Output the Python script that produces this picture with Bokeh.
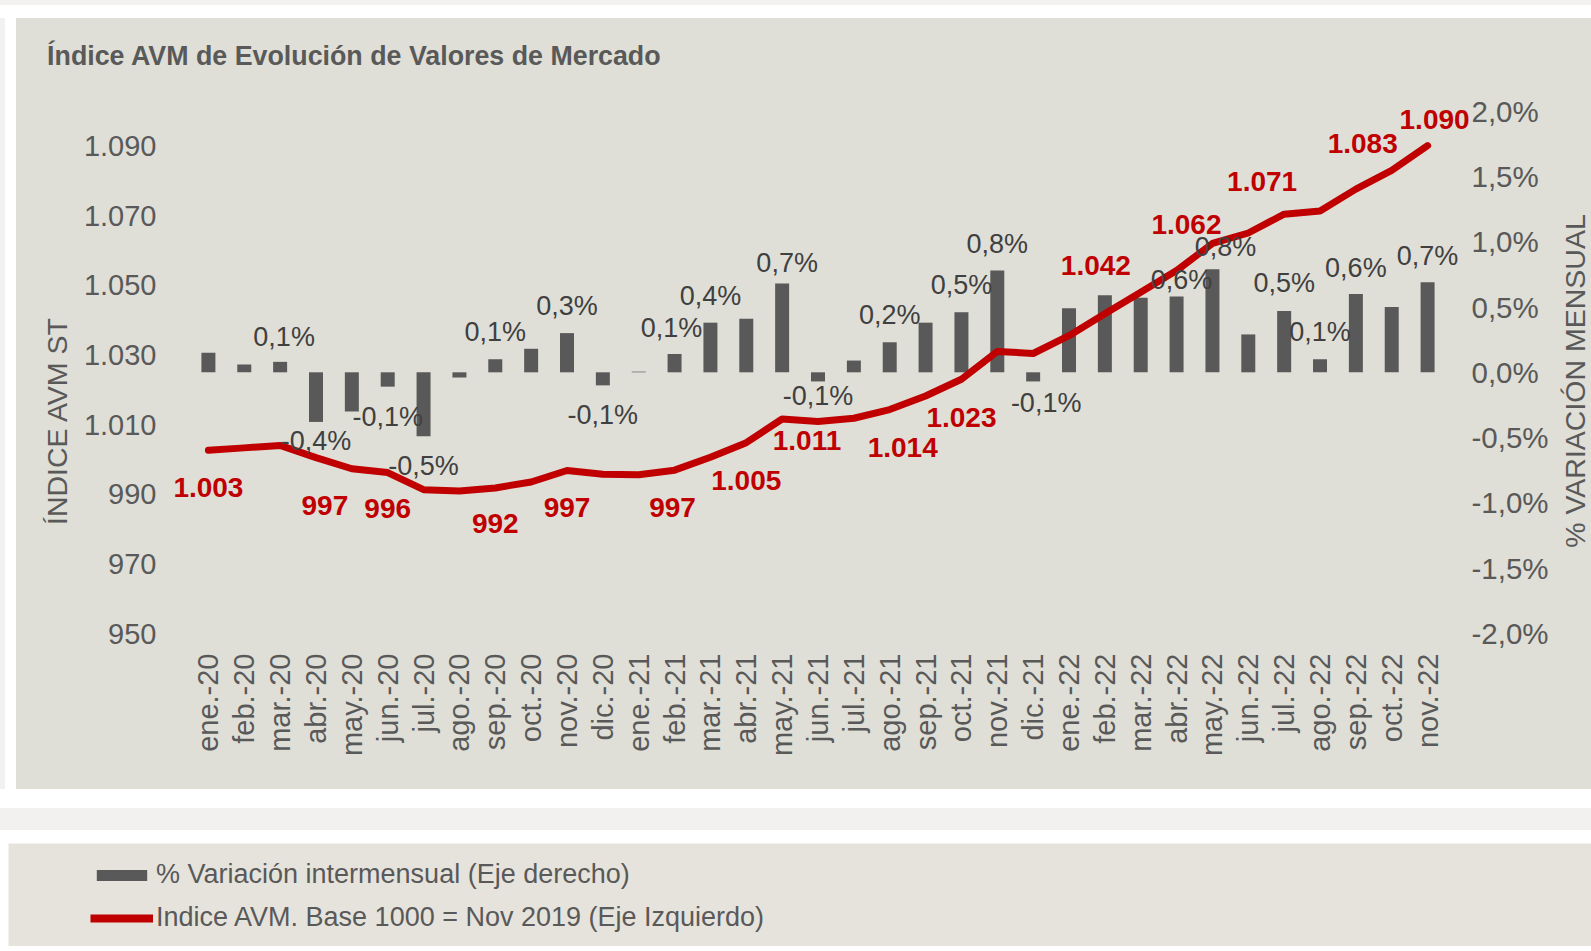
import math
from bokeh.plotting import figure
from bokeh.models import (Range1d, LinearAxis, FixedTicker, ColumnDataSource, LabelSet, Label,
                          Legend, LegendItem, Spacer)
from bokeh.layouts import column, row
from bokeh.core.properties import value
from bokeh.embed import file_html
from bokeh.resources import INLINE

# ---------------- data ----------------
months = ["ene.-20", "feb.-20", "mar.-20", "abr.-20", "may.-20", "jun.-20", "jul.-20",
          "ago.-20", "sep.-20", "oct.-20", "nov.-20", "dic.-20",
          "ene.-21", "feb.-21", "mar.-21", "abr.-21", "may.-21", "jun.-21", "jul.-21",
          "ago.-21", "sep.-21", "oct.-21", "nov.-21", "dic.-21",
          "ene.-22", "feb.-22", "mar.-22", "abr.-22", "may.-22", "jun.-22", "jul.-22",
          "ago.-22", "sep.-22", "oct.-22", "nov.-22"]

var_pct = [0.15, 0.06, 0.08, -0.38, -0.30, -0.11, -0.49, -0.04, 0.10, 0.18, 0.30, -0.10,
           0.005, 0.14, 0.38, 0.41, 0.68, -0.07, 0.09, 0.23, 0.38, 0.46, 0.78, -0.07,
           0.49, 0.59, 0.57, 0.58, 0.79, 0.29, 0.47, 0.10, 0.60, 0.50, 0.69]

index_avm = [1002.6, 1003.3, 1004.0, 1000.5, 997.3, 996.2, 991.3, 990.9, 991.8, 993.5,
             996.8, 995.7, 995.6, 996.9, 1000.6, 1004.8, 1011.6, 1010.9, 1011.8, 1014.3,
             1018.2, 1023.0, 1031.0, 1030.4, 1035.5, 1041.8, 1048.0, 1054.2, 1062.0,
             1065.0, 1070.4, 1071.3, 1077.6, 1083.0, 1090.1]

left_ticks = [950, 970, 990, 1010, 1030, 1050, 1070, 1090]
left_tick_labels = ["950", "970", "990", "1.010", "1.030", "1.050", "1.070", "1.090"]
right_ticks = [-2.0, -1.5, -1.0, -0.5, 0.0, 0.5, 1.0, 1.5, 2.0]
right_tick_labels = ["-2,0%", "-1,5%", "-1,0%", "-0,5%", "0,0%", "0,5%", "1,0%", "1,5%", "2,0%"]

bar_label_idx = [2, 3, 5, 6, 8, 10, 11, 13, 14, 16, 17, 19, 21, 22, 23, 27, 28, 30, 31, 32, 34]
bar_label_text = ["0,1%", "-0,4%", "-0,1%", "-0,5%", "0,1%", "0,3%", "-0,1%", "0,1%", "0,4%",
                  "0,7%", "-0,1%", "0,2%", "0,5%", "0,8%", "-0,1%", "0,6%", "0,8%", "0,5%",
                  "0,1%", "0,6%", "0,7%"]
line_label_idx = [0, 4, 5, 8, 10, 13, 15, 17, 19, 21, 25, 28, 30, 33, 34]
line_label_text = ["1.003", "997", "996", "992", "997", "997", "1.005", "1.011", "1.014",
                   "1.023", "1.042", "1.062", "1.071", "1.083", "1.090"]

title_text = "Índice AVM de Evolución de Valores de Mercado"
left_title = "ÍNDICE AVM ST"
right_title = "% VARIACIÓN MENSUAL"
legend_bar = "% Variación intermensual (Eje derecho)"
legend_line = "Indice AVM. Base 1000 = Nov 2019 (Eje Izquierdo)"

# ---------------- styles (label pixel offsets) ----------------
bar_label_dx = [4, 0, 0, 0, 0, 0, 0, -3, 0, 5, 0, 0, 0, 0, 13, 5, 13, 0, 0, 0, 0]
bar_label_dy = [25, -19, -30, -30, 27, 27, -30, 26, 27, 20, -15, 27, 27, 26, -22, 17, 22, 28, 27, 26, 26]
line_label_dx = [0, -27, 0, 0, 0, -2, 0, -11, 13, 0, -9, -26, -22, -29, 7]
line_label_dy = [-37, -37, -36, -36, -37, -37, -38, -19, -38, -38, 48, 19, 33, 27, 26]

FONT = "Liberation Sans"
BG = "#dfdfd7"
LBG = "#e6e3dc"
PAGE = "#f2f1ef"
GREY = "#595959"
RED = "#c00000"

# ---------------- geometry (page pixels) ----------------
FIG_X, FIG_Y, FIG_H = 16, 18, 771
FIG_R = 1551                           # right edge of the main figure
X0_PX, X1_PX = 190.0, 1446.0          # -0.5 and n-0.5
Y0_PX, Y1_PX = 633.0, 110.6           # 950/-2% and 1100/+2%
FL, FR, FT, FB = 168, 1472, 104, 633  # frame (wider than data area so labels fit)

n = len(months)
x = list(range(n))
ux = (X1_PX - X0_PX) / n
uy = (Y0_PX - Y1_PX) / 150.0
up = (Y0_PX - Y1_PX) / 4.0
xr = Range1d(-0.5 - (X0_PX - FL) / ux, n - 0.5 + (FR - X1_PX) / ux)
yr = Range1d(950 - (FB - Y0_PX) / uy, 1100 + (Y1_PX - FT) / uy)
pr = Range1d(-2 - (FB - Y0_PX) / up, 2 + (Y1_PX - FT) / up)

p = figure(width=FIG_R - FIG_X, height=FIG_H, x_range=xr, y_range=yr,
           output_backend="svg", toolbar_location=None,
           min_border_left=FL - FIG_X, min_border_right=FIG_R - FR,
           min_border_top=FT - FIG_Y, min_border_bottom=FIG_Y + FIG_H - FB,
           background_fill_color=BG, border_fill_color=BG, outline_line_color=None)
p.extra_y_ranges = {"pct": pr}
p.xgrid.visible = False
p.ygrid.visible = False


def style_axis(ax, size="29px"):
    ax.axis_line_color = None
    ax.major_tick_line_color = None
    ax.minor_tick_line_color = None
    ax.major_tick_out = 0
    ax.major_tick_in = 0
    ax.minor_tick_out = 0
    ax.minor_tick_in = 0
    ax.major_label_text_font = FONT
    ax.major_label_text_font_size = size
    ax.major_label_text_color = GREY


ya = p.yaxis[0]
style_axis(ya, "29px")
ya.ticker = FixedTicker(ticks=left_ticks)
ya.major_label_overrides = {t: l for t, l in zip(left_ticks, left_tick_labels)}
ya.major_label_standoff = 12

xa = p.xaxis[0]
style_axis(xa, "29px")
xa.ticker = FixedTicker(ticks=x)
xa.major_label_overrides = {i: m for i, m in zip(x, months)}
xa.major_label_orientation = math.pi / 2
xa.major_label_standoff = 20

ra = LinearAxis(y_range_name="pct", ticker=FixedTicker(ticks=right_ticks))
style_axis(ra, "29.5px")
ra.major_label_overrides = {t: l for t, l in zip(right_ticks, right_tick_labels)}
ra.major_label_standoff = 0
p.add_layout(ra, "right")

# left axis title and chart title as single-tick axes (they sit outside the frame)
left_title_y = 950 + (Y0_PX - 316) / uy
lt = LinearAxis(ticker=FixedTicker(ticks=[left_title_y]))
style_axis(lt, "28.5px")
lt.major_label_overrides = {left_title_y: left_title}
lt.major_label_orientation = math.pi / 2
lt.major_label_standoff = 24
p.add_layout(lt, "left")

title_x = -0.5 + (47 + 307 - X0_PX) / ux
tt = LinearAxis(ticker=FixedTicker(ticks=[title_x]))
style_axis(tt, "26.8px")
tt.major_label_text_font_style = "bold"
tt.major_label_overrides = {title_x: title_text}
tt.major_label_standoff = 34
p.add_layout(tt, "above")

src = ColumnDataSource(dict(x=x, pct=var_pct, idx=index_avm))
p.vbar(x="x", top="pct", bottom=0, width=0.39, source=src, y_range_name="pct",
       fill_color=GREY, line_color=None)
p.line(x="x", y="idx", source=src, line_color=RED, line_width=7,
       line_cap="round", line_join="round")

bl_src = ColumnDataSource(dict(
    x=bar_label_idx, y=[var_pct[i] for i in bar_label_idx], text=bar_label_text,
    dx=bar_label_dx, dy=bar_label_dy))
p.add_layout(LabelSet(x="x", y="y", text="text", source=bl_src, y_range_name="pct",
                      x_offset="dx", y_offset="dy", text_align="center", text_baseline="middle",
                      text_font=value(FONT), text_font_size="27px", text_color="#404040"))

ll_src = ColumnDataSource(dict(
    x=line_label_idx, y=[index_avm[i] for i in line_label_idx], text=line_label_text,
    dx=line_label_dx, dy=line_label_dy))
p.add_layout(LabelSet(x="x", y="y", text="text", source=ll_src,
                      x_offset="dx", y_offset="dy", text_align="center", text_baseline="middle",
                      text_font=value(FONT), text_font_size="28px", text_font_style="bold",
                      text_color=RED))

# ---------------- right axis title (narrow strip figure) ----------------
TW = 1591 - FIG_R
pt = figure(width=TW, height=FIG_H, output_backend="svg", toolbar_location=None,
            x_axis_location=None, y_axis_location=None, min_border=0,
            x_range=Range1d(0, TW), y_range=Range1d(0, FIG_H),
            background_fill_color=BG, border_fill_color=BG, outline_line_color=None)
pt.xgrid.visible = False
pt.ygrid.visible = False
pt.add_layout(Label(x=1574 - FIG_R, y=FIG_H - (421 - FIG_Y), text=right_title, angle=math.pi / 2,
                    text_align="center", text_baseline="middle", text_font=FONT,
                    text_font_size="28.5px", text_color=GREY))

# ---------------- legend panel ----------------
pl = figure(width=1583, height=103, output_backend="svg", toolbar_location=None,
            x_axis_location=None, y_axis_location=None, min_border=0,
            x_range=Range1d(0, 1), y_range=Range1d(0, 1),
            background_fill_color=LBG, border_fill_color=LBG, outline_line_color=None)
pl.xgrid.visible = False
pl.ygrid.visible = False
r_bar = pl.vbar(x=[5], top=[5], bottom=[4], width=0.5, fill_color=GREY, line_color=None)
r_line = pl.line(x=[5, 6], y=[5, 5], line_color=RED, line_width=8)
leg = Legend(items=[LegendItem(label=legend_bar, renderers=[r_bar]),
                    LegendItem(label=legend_line, renderers=[r_line])],
             location=(82, 13), orientation="vertical",
             glyph_width=63, glyph_height=14, label_standoff=3, label_height=30,
             spacing=12, padding=0, margin=0, border_line_color=None,
             background_fill_alpha=0, label_text_font=FONT, label_text_font_size="27px",
             label_text_color=GREY)
pl.add_layout(leg)

top = column(Spacer(height=5, width=1591, styles={"background-color": PAGE}),
             Spacer(height=13, width=1591))
plots = row(p, pt, styles={"background-color": BG})
chart_row = row(Spacer(width=5, height=FIG_H, styles={"background-color": PAGE}),
                Spacer(width=11, height=FIG_H), plots)
gap = column(Spacer(height=19, width=1591),
             Spacer(height=22, width=1591, styles={"background-color": PAGE}),
             Spacer(height=13, width=1591))
legend_row = row(Spacer(width=8, height=103), pl)

layout = column(top, chart_row, gap, legend_row)

open("out.html", "w").write(file_html(layout, INLINE))
